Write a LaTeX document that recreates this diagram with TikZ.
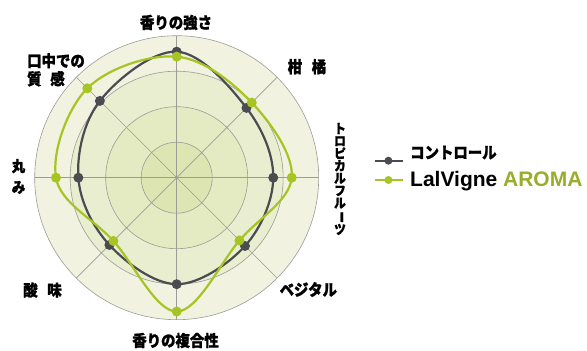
\documentclass[tikz,border=0pt]{standalone}
\usepackage{fontspec}
\usetikzlibrary{calc}
\setmainfont{Liberation Sans}
\newfontfamily\jp{Noto Sans CJK JP}[FakeStretch=0.9, BoldFeatures={FakeBold=1.2}]

\definecolor{ctrlgray}{HTML}{4B4B52}
\definecolor{aromagreen}{HTML}{A6C423}
\definecolor{aromatext}{HTML}{9AAD2B}
\definecolor{gridgray}{HTML}{9C9C96}
\definecolor{bandA}{HTML}{DDE5B2}
\definecolor{bandB}{HTML}{E4EAC2}
\definecolor{bandC}{HTML}{EAEED0}
\definecolor{bandD}{HTML}{F1F2E0}

\def\ringunit{35.5}

\tikzset{
  gridline/.style={draw=gridgray, line width=0.6pt},
  ctrlline/.style={draw=ctrlgray, line width=2.2pt},
  aromaline/.style={draw=aromagreen, line width=2.2pt},
  axislabel/.style={font=\jp\bfseries\fontsize{16}{18}\selectfont, inner sep=0pt, align=center},
  vlabel/.style={font=\jp\bfseries\fontsize{13}{12.4}\selectfont, inner sep=0pt, align=center},
  keytext/.style={anchor=west, inner sep=0pt},
}

\begin{document}
\begin{tikzpicture}[x=1pt,y=1pt]
\useasboundingbox (-176.7,-173.3) rectangle (410.3,177.7);
% background bands and grid
\foreach \r/\c in {4/bandD,3/bandC,2/bandB,1/bandA}
    \fill[\c] (0,0) circle[radius={\r*\ringunit}];
\foreach \r in {1,...,4}
    \draw[gridline] (0,0) circle[radius={\r*\ringunit}];
\foreach \a in {0,45,...,315}
    \draw[gridline] (0,0) -- (\a:142);
% data
\foreach \v [count=\i from 0] in {3.55,2.78,2.72,2.72,3.00,2.68,2.77,3.06}
    \coordinate (ctrl\i) at ({90-45*\i}:{\v*\ringunit});
\foreach \v [count=\i from 0] in {3.41,2.99,3.24,2.50,3.77,2.52,3.40,3.56}
    \coordinate (aroma\i) at ({90-45*\i}:{\v*\ringunit});
\draw[ctrlline] plot[smooth cycle, tension=0.6] coordinates {(ctrl0) (ctrl1) (ctrl2) (ctrl3) (ctrl4) (ctrl5) (ctrl6) (ctrl7)};
\foreach \i in {0,...,7}
    \fill[ctrlgray] (ctrl\i) circle (5);
\draw[aromaline] plot[smooth cycle, tension=0.6] coordinates {(aroma0) (aroma1) (aroma2) (aroma3) (aroma4) (aroma5) (aroma6) (aroma7)};
\foreach \i in {0,...,7}
    \fill[aromagreen] (aroma\i) circle (5);
% axis labels
\node[axislabel] (strength) at (-0.7,155.2) {香りの強さ};
\node[axislabel] (citrus) at (130.3,111) {柑\hspace{0.6em}橘};
\node[vlabel] (tropical) at (163.3,-1.3) {ト\\ロ\\ピ\\カ\\ル\\フ\\ル\\\rotatebox[origin=c]{-90}{ー}\\ツ};
\node[axislabel] (vegetal) at (131.6,-111.8) {ベジタル};
\node[axislabel] (complexity) at (-1.2,-162.8) {香りの複合性};
\node[axislabel] (acidity) at (-134.2,-112.3) {酸\hspace{0.6em}味};
\node[axislabel, font=\jp\bfseries\fontsize{15}{21}\selectfont] (roundness) at (-158.2,1.2) {丸\\み};
\node[axislabel, align=left, anchor=north west] (mouthfeel) at (-149.7,124.7) {口中での\\質\hspace{0.55em}感};
% legend
\coordinate (ctrlA) at (198.3,17);
\coordinate (ctrlB) at (226.3,17);
\draw[ctrlgray, line width=2pt] (ctrlA) -- (ctrlB);
\fill[ctrlgray] ($(ctrlA)!0.48!(ctrlB)$) circle (4);
\node[keytext, font=\jp\bfseries\fontsize{16}{16}\selectfont] (ctrlkey) at (233.3,25.2) {コントロール};
\coordinate (aromaA) at (198.3,-2.3);
\coordinate (aromaB) at (226.3,-2.3);
\draw[aromagreen, line width=2pt] (aromaA) -- (aromaB);
\fill[aromagreen] ($(aromaA)!0.48!(aromaB)$) circle (4);
\node[keytext, anchor=base west, font=\bfseries\fontsize{21}{21}\selectfont] (aromakey) at (233.3,-9.3) {LalVigne \textcolor{aromatext}{AROMA}};
\end{tikzpicture}
\end{document}
